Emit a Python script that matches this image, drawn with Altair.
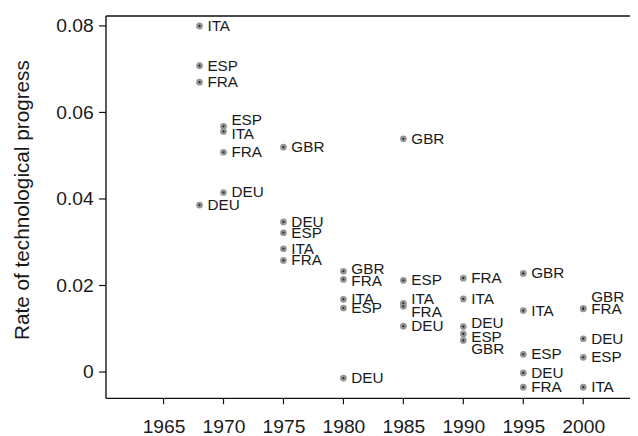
import altair as alt
import pandas as pd

# ---- data ----
years = [1968, 1968, 1968, 1968,
         1970, 1970, 1970, 1970,
         1975, 1975, 1975, 1975, 1975,
         1980, 1980, 1980, 1980, 1980,
         1985, 1985, 1985, 1985, 1985,
         1990, 1990, 1990, 1990, 1990,
         1995, 1995, 1995, 1995, 1995,
         2000, 2000, 2000, 2000, 2000]
countries = ["ITA", "ESP", "FRA", "DEU",
             "ESP", "ITA", "FRA", "DEU",
             "GBR", "DEU", "ESP", "ITA", "FRA",
             "GBR", "FRA", "ITA", "ESP", "DEU",
             "GBR", "ESP", "ITA", "FRA", "DEU",
             "FRA", "ITA", "DEU", "ESP", "GBR",
             "GBR", "ITA", "ESP", "DEU", "FRA",
             "GBR", "FRA", "DEU", "ESP", "ITA"]
rates = [0.0800, 0.0708, 0.0670, 0.0386,
         0.0568, 0.0556, 0.0508, 0.0415,
         0.0520, 0.0347, 0.0322, 0.0285, 0.0258,
         0.0233, 0.0214, 0.0168, 0.0148, -0.0014,
         0.0539, 0.0212, 0.0159, 0.0152, 0.0106,
         0.0217, 0.0169, 0.0105, 0.0088, 0.0073,
         0.0228, 0.0142, 0.0041, -0.0002, -0.0035,
         0.0147, 0.0146, 0.0077, 0.0034, -0.0035]

y_ticks = [0, 0.02, 0.04, 0.06, 0.08]
x_ticks = [1965, 1970, 1975, 1980, 1985, 1990, 1995, 2000]

# label nudges (pixels) to keep stacked labels readable, as in the reference
label_nudge = {(1970, "ESP"): -6, (1970, "ITA"): 3,
               (1980, "GBR"): -2, (1980, "FRA"): 2,
               (1985, "ITA"): -4, (1985, "FRA"): 6,
               (1990, "DEU"): -4, (1990, "ESP"): 3, (1990, "GBR"): 9,
               (2000, "GBR"): -12}

df = pd.DataFrame({"year": years, "country": countries, "rate": rates})
df["nudge"] = [label_nudge.get((y, c), 0) for y, c in zip(years, countries)]

W, H = 531, 387.4
FONT = "Liberation Sans"
INK = "#1a1a1a"
LINE = "#111"

x_scale = alt.Scale(domain=[1960.2, 2003.9], nice=False, zero=False)
y_scale = alt.Scale(domain=[-0.00608, 0.08228], nice=False, zero=False)

axis_style = dict(grid=False, domain=False, ticks=True, tickOpacity=0,
                  labelColor=INK, labelFont=FONT, labelFontSize=19.5)

x_enc = alt.X("year:Q", scale=x_scale,
              axis=alt.Axis(values=x_ticks, format="d", title=None, tickSize=6,
                            labelPadding=14, labelFlush=False, **axis_style))
y_enc = alt.Y("rate:Q", scale=y_scale,
              axis=alt.Axis(values=y_ticks, title="Rate of technological progress",
                            labelExpr="datum.value == 0 ? '0' : format(datum.value, '.2f')",
                            tickSize=7, labelPadding=6,
                            titleFont=FONT, titleColor=INK,
                            titleFontSize=21, titleFontWeight="normal",
                            titleX=-85, titleY=186, titleAngle=270,
                            titleAlign="center", titleBaseline="middle",
                            **axis_style))

base = alt.Chart(df)

outer = base.mark_circle(size=46, color="#959595", opacity=1).encode(x=x_enc, y=y_enc)
inner = base.mark_circle(size=5, color="#2a2a2a", opacity=1).encode(x="year:Q", y="rate:Q")

text_layers = []
for nd in sorted(df["nudge"].unique()):
    text_layers.append(
        base.transform_filter(alt.datum.nudge == int(nd))
        .mark_text(align="left", baseline="middle", dx=8, dy=int(nd),
                   fontSize=15.5, font=FONT, color=INK)
        .encode(x="year:Q", y="rate:Q", text="country:N")
    )

one = pd.DataFrame({"k": [0]})
frame_top = alt.Chart(one).mark_rule(color=LINE, strokeWidth=1.4).encode(
    x=alt.value(0), x2=alt.value(W), y=alt.value(0))
frame_left = alt.Chart(one).mark_rule(color=LINE, strokeWidth=1.4).encode(
    x=alt.value(0), y=alt.value(0), y2=alt.value(H))
frame_bottom = alt.Chart(one).mark_rule(color=LINE, strokeWidth=1.4).encode(
    x=alt.value(0), x2=alt.value(W), y=alt.value(H))

xt = alt.Chart(pd.DataFrame({"t": x_ticks})).mark_rule(color=LINE, strokeWidth=1.2).encode(
    x=alt.X("t:Q", scale=x_scale), y=alt.value(H), y2=alt.value(H + 6))
yt = alt.Chart(pd.DataFrame({"t": y_ticks})).mark_rule(color=LINE, strokeWidth=1.2).encode(
    y=alt.Y("t:Q", scale=y_scale), x=alt.value(-7), x2=alt.value(0))

chart = alt.layer(outer, inner, *text_layers, frame_top, frame_left, frame_bottom, xt, yt).properties(
    width=W, height=H,
    background="white",
    autosize=alt.AutoSizeParams(type="none"),
    padding={"left": 99.3, "top": 5.3, "right": 0, "bottom": 36},
).configure_view(stroke=None)

chart.save("out.html", embed_options={"renderer": "svg", "actions": False})
